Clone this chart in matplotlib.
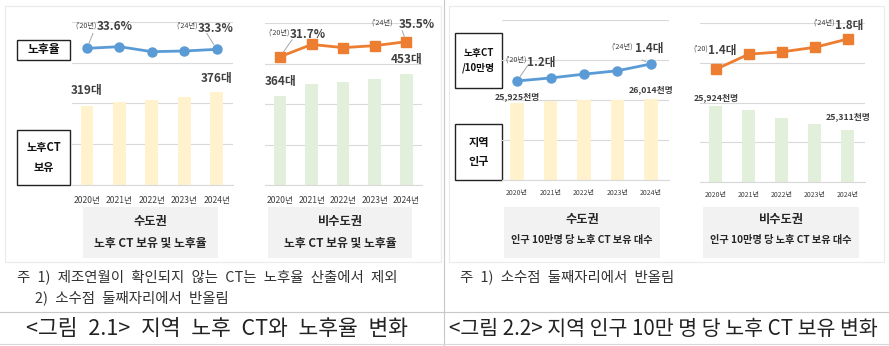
import numpy as np
import matplotlib
matplotlib.use('Agg')
import matplotlib.pyplot as plt
from matplotlib.patches import Rectangle

plt.rcParams['font.family'] = ['Noto Sans CJK KR', 'DejaVu Sans']

W, H = 889, 346

years = ['2020년', '2021년', '2022년', '2023년', '2024년']
cap_ct = [319, 337, 345, 356, 376]
cap_rate = [33.6, 34.1, 32.6, 32.8, 33.3]
noncap_ct = [364, 410, 418, 430, 453]
noncap_rate = [31.7, 34.8, 34.0, 34.5, 35.5]
cap_pop = [25925, 25970, 25990, 26000, 26014]
noncap_pop = [25924, 25822, 25618, 25465, 25311]
cap_per = [1.20, 1.235, 1.28, 1.32, 1.40]
noncap_per = [1.40, 1.60, 1.63, 1.69, 1.80]

YELLOW = '#FFF2CC'
GREEN = '#E2EFDA'
BLUE = '#5B9BD5'
ORANGE = '#ED7D31'
GRID = '#D9D9D9'
TXT = '#404040'
SP = '\u2002'  # wider word gap, like the original typeset notes

fig = plt.figure(figsize=(W / 100, H / 100), dpi=100)

# background layer in pixel coordinates
bg = fig.add_axes([0, 0, 1, 1], zorder=-1)
bg.set_xlim(0, W)
bg.set_ylim(H, 0)
bg.axis('off')


def px_axes(x0, y0, x1, y1):
    return fig.add_axes([x0 / W, 1 - y1 / H, (x1 - x0) / W, (y1 - y0) / H])


def wide(s):
    return s.replace(' ', SP)


# table lines and picture frames
bg.plot([444, 444], [0, H], color='#C8C8C8', lw=0.8)
bg.plot([0, W], [312, 312], color='#C8C8C8', lw=0.8)
bg.plot([0, W], [344, 344], color='#D8D8D8', lw=0.8)
for x0, x1 in [(5, 441), (449, 884)]:
    bg.add_patch(Rectangle((x0, 6), x1 - x0, 256, fill=False, ec='#EBEBEB', lw=0.8))

# gray title boxes below the charts
for (x0, x1), t1, t2, fs in [((83, 218), '수도권', '노후 CT 보유 및 노후율', 8.5),
                             ((268, 412), '비수도권', '노후 CT 보유 및 노후율', 8.5),
                             ((504, 660), '수도권', '인구 10만명 당 노후 CT 보유 대수', 7.3),
                             ((703, 859), '비수도권', '인구 10만명 당 노후 CT 보유 대수', 7.3)]:
    bg.add_patch(Rectangle((x0, 207), x1 - x0, 51, color='#F2F2F2', lw=0))
    cx = (x0 + x1) / 2
    yy = (221, 244) if fs > 8 else (220, 240)
    bg.text(cx, yy[0], t1, ha='center', va='center', fontsize=8.8, weight='bold', color='#262626')
    bg.text(cx, yy[1], t2, ha='center', va='center', fontsize=fs, weight='bold', color='#262626')

# black label boxes
for (x0, y0, x1, y1), label, fs in [((17, 40, 70, 60), '노후율', 8.5),
                                    ((17, 130, 70, 185), '노후CT\n보유', 8),
                                    ((455, 33, 502, 88), '노후CT\n/10만명', 7),
                                    ((455, 124, 502, 180), '지역\n인구', 8)]:
    bg.add_patch(Rectangle((x0, y0), x1 - x0, y1 - y0, fill=False, ec='#222222', lw=1.0))
    bg.text((x0 + x1) / 2, (y0 + y1) / 2, label, ha='center', va='center', fontsize=fs,
            weight='bold', color='#111111', linespacing=1.6)

# notes and captions
note_kw = dict(fontsize=10.4, va='center', color='#333333')
bg.text(17, 277, wide('주 1) 제조연월이 확인되지 않는 CT는 노후율 산출에서 제외'), **note_kw)
bg.text(35, 298, wide('2) 소수점 둘째자리에서 반올림'), **note_kw)
bg.text(460, 277, wide('주 1) 소수점 둘째자리에서 반올림'), **note_kw)
bg.text(217, 329, wide('<그림 2.1> 지역 노후 CT와 노후율 변화'), fontsize=15.5, ha='center',
        va='center', color='#222222')
bg.text(663, 329, '<그림 2.2> 지역 인구 10만 명 당 노후 CT 보유 변화', fontsize=14.8,
        ha='center', va='center', color='#222222')


def chart(box, xlim, bars, bar_color, bar_ylim, bar_step, line, line_color, marker,
          line_ylim, tick_fs, tick_pad, bar_labels, line_labels):
    ax = px_axes(*box)
    ax.patch.set_alpha(0)
    x = np.arange(len(years))
    ax.bar(x, bars, width=0.4, color=bar_color, zorder=2)
    ax.set_xlim(*xlim)
    ax.set_ylim(*bar_ylim)
    ax.set_yticks(np.arange(bar_ylim[0], bar_ylim[1] + 1, bar_step))
    ax.yaxis.grid(True, color=GRID, lw=0.8)
    ax.set_axisbelow(True)
    ax.set_yticklabels([])
    ax.tick_params(axis='y', length=0)
    ax.set_xticks(x)
    ax.set_xticklabels(years, fontsize=tick_fs, color=TXT)
    ax.tick_params(axis='x', length=0, pad=tick_pad)
    for s in ['top', 'left', 'right']:
        ax.spines[s].set_visible(False)
    ax.spines['bottom'].set_color(GRID)
    ax.spines['bottom'].set_linewidth(0.8)

    for i, text, dy, fs in bar_labels:
        ax.annotate(text, (i, bars[i]), xytext=(0, dy), textcoords='offset pixels',
                    ha='center', va='center', fontsize=fs, weight='bold', color=TXT,
                    annotation_clip=False)

    al = ax.twinx()
    al.set_ylim(*line_ylim)
    al.axis('off')
    al.plot(x, line, color=line_color, lw=2, marker=marker, ms=6.5, clip_on=False)
    for i, small, big, sdx, sdy, bdx, bdy, lead, fs in line_labels:
        al.annotate(small, (i, line[i]), xytext=(sdx, sdy), textcoords='offset pixels',
                    ha='right', va='center', fontsize=5.2, color=TXT, annotation_clip=False)
        al.annotate(big, (i, line[i]), xytext=(bdx, bdy), textcoords='offset pixels',
                    ha='left', va='center', fontsize=fs, weight='bold', color=TXT,
                    annotation_clip=False)
        if lead:
            al.annotate('', (i, line[i]), xytext=lead, textcoords='offset pixels',
                        arrowprops=dict(arrowstyle='-', color='#A6A6A6', lw=0.7,
                                        shrinkA=0, shrinkB=4), annotation_clip=False)
    return ax


chart((72.4, 22, 233, 185), (-0.45, 4.5), cap_ct, YELLOW, (0, 660), 165,
      cap_rate, BLUE, 'o', (-7.4, 41.5), 6.2, 8,
      [(0, '319대', 16, 8.5), (4, '376대', 14, 8.5)],
      [(0, "('20년)", '33.6%', 10, 23, 10, 22, (6, 15), 8.5),
       (4, "('24년)", '33.3%', -19, 24, -19, 21, (-10, 16), 8.5)])

chart((265, 23, 422, 185), (-0.48, 4.5), noncap_ct, GREEN, (0, 660), 165,
      noncap_rate, ORANGE, 's', (-0.8, 40.24), 6.2, 8,
      [(0, '364대', 14, 8.5), (4, '453대', 14, 8.5)],
      [(0, "('20년)", '31.7%', 10, 24, 10, 22, (12, 17), 8.5),
       (4, "('24년)", '35.5%', -13, 19, -8, 17, (-4, 11), 8.5)])

chart((502, 20, 669, 180), (-0.45, 4.54), cap_pop, YELLOW, (24000, 28000), 1000,
      cap_per, BLUE, 'o', (0.035, 1.917), 5, 6.5,
      [(0, '25,925천명', 6, 6.3), (4, '26,014천명', 10, 6.3)],
      [(0, "('20년)", '1.2대', 10, 21, 10, 19, (11, 16), 8.4),
       (4, "('24년)", '1.4대', -18, 17, -16, 16, (-9, 4), 8.4)])

chart((700, 23, 865, 182), (-0.48, 4.52), noncap_pop, GREEN, (24000, 28000), 1000,
      noncap_per, ORANGE, 's', (-0.088, 2.011), 5, 6.5,
      [(0, '25,924천명', 8, 6.3), (4, '25,311천명', 13, 6.3)],
      [(0, "('20)", '1.4대', -8, 21, -8, 19, None, 8.4),
       (4, "('24년)", '1.8대', -13, 16, -13, 14, None, 8.4)])

fig.savefig('out.png', dpi=100)
